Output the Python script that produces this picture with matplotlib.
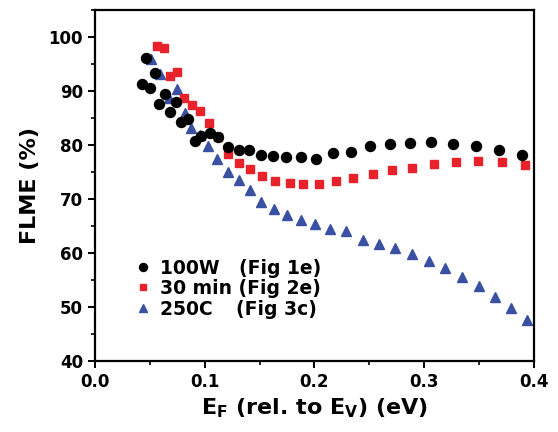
import matplotlib
matplotlib.use("Agg")
import matplotlib.pyplot as plt
from matplotlib.ticker import MultipleLocator

# 100W (Fig 1e)
x_100w = [0.0425, 0.0464, 0.0500, 0.0545, 0.0585, 0.0636, 0.0682, 0.0736, 0.0788, 0.0848,
          0.0909, 0.0970, 0.1045, 0.1121, 0.1212, 0.1309, 0.1403, 0.1509, 0.1627, 0.1745,
          0.1882, 0.2018, 0.2173, 0.2336, 0.2506, 0.2688, 0.2873, 0.3064, 0.3266, 0.3470,
          0.3682, 0.3888]
y_100w = [91.3, 96.1, 90.5, 93.4, 87.6, 89.4, 86.2, 87.9, 84.2, 84.8,
          80.7, 81.7, 82.3, 81.4, 79.6, 79.1, 79.1, 78.2, 77.9, 77.7,
          77.7, 77.5, 78.5, 78.8, 79.8, 80.1, 80.4, 80.5, 80.2, 79.9,
          79.1, 78.2]

# 30 min (Fig 2e)
x_30min = [0.0570, 0.0627, 0.0682, 0.0748, 0.0812, 0.0885, 0.0961, 0.1036, 0.1121, 0.1212,
           0.1309, 0.1414, 0.1525, 0.1645, 0.1773, 0.1900, 0.2045, 0.2197, 0.2355, 0.2530,
           0.2706, 0.2888, 0.3088, 0.3288, 0.3491, 0.3706, 0.3918]
y_30min = [98.3, 98.0, 92.8, 93.6, 88.7, 87.4, 86.3, 84.1, 81.5, 78.4,
           76.6, 75.5, 74.2, 73.3, 72.9, 72.8, 72.7, 73.4, 73.9, 74.7,
           75.3, 75.8, 76.4, 76.8, 77.0, 76.8, 76.3]

# 250C (Fig 3c)
x_250c = [0.0509, 0.0591, 0.0675, 0.0748, 0.0818, 0.0879, 0.0955, 0.1030, 0.1115, 0.1212,
          0.1309, 0.1409, 0.1515, 0.1636, 0.1748, 0.1882, 0.2009, 0.2143, 0.2288, 0.2439,
          0.2585, 0.2734, 0.2885, 0.3039, 0.3191, 0.3348, 0.3500, 0.3643, 0.3788, 0.3934]
y_250c = [95.9, 93.2, 88.7, 90.4, 86.0, 83.1, 81.9, 79.9, 77.5, 75.0,
          73.5, 71.6, 69.4, 68.2, 67.0, 66.2, 65.4, 64.5, 64.1, 62.5,
          61.7, 60.9, 59.9, 58.5, 57.3, 55.6, 53.9, 51.8, 49.8, 47.7]

plt.rcParams["font.family"] = "DejaVu Sans"
plt.rcParams["font.weight"] = "bold"
plt.rcParams["mathtext.fontset"] = "dejavusans"

fig = plt.figure(figsize=(5.58, 4.32), dpi=100)
ax = fig.add_axes([0.170, 0.164, 0.787, 0.813])

ax.plot(x_250c, y_250c, "^", color="#3a50a2", markersize=7, linestyle="none",
        label="250C   \u2009(Fig 3c)", zorder=2)
ax.plot(x_30min, y_30min, "s", color="#e8222a", markersize=6, linestyle="none",
        label="30 min (Fig 2e)", zorder=3)
ax.plot(x_100w, y_100w, "o", color="black", markersize=7.2, linestyle="none",
        label="100W   (Fig 1e)", zorder=4)

ax.set_xlim(0.0, 0.4)
ax.set_ylim(40, 105)
ax.xaxis.set_major_locator(MultipleLocator(0.1))
ax.xaxis.set_minor_locator(MultipleLocator(0.05))
ax.yaxis.set_minor_locator(MultipleLocator(5))
ax.xaxis.set_major_formatter(plt.FuncFormatter(lambda v, _: f"{v:.1f}"))
ax.set_yticks([40, 50, 60, 70, 80, 90, 100])

for s in ax.spines.values():
    s.set_linewidth(1.6)
ax.tick_params(which="major", direction="out", length=5, width=1.4, labelsize=12)
ax.tick_params(which="minor", direction="out", length=3, width=1.2)
ax.tick_params(top=False, right=False)

ax.set_ylabel("FLME (%)", fontsize=16, fontweight="bold", labelpad=6)
ax.set_xlabel(r"E$_\mathbf{F}$ (rel. to E$_\mathbf{V}$) (eV)", fontsize=16,
              fontweight="bold", labelpad=4)

handles, labels = ax.get_legend_handles_labels()
leg = ax.legend(handles[::-1], labels[::-1], loc="lower left",
                bbox_to_anchor=(0.072, 0.10), frameon=False,
                fontsize=13.5, handletextpad=0.4, labelspacing=0.08,
                handlelength=1.0, borderaxespad=0, markerscale=0.8)
for t in leg.get_texts():
    t.set_fontweight("bold")

fig.savefig("out.png", dpi=100)
